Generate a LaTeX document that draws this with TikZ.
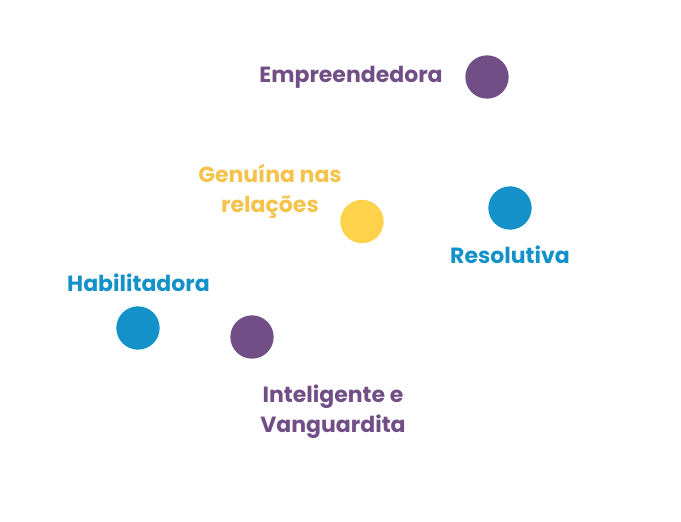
\documentclass[tikz,border=0pt]{standalone}
\usepackage{fontspec}
\setmainfont{Poppins}
\definecolor{cpurple}{HTML}{714F86}
\definecolor{cblue}{HTML}{1591CA}
\definecolor{cyellowdot}{HTML}{FED24B}
\definecolor{cyellowtxt}{HTML}{F5C24C}
\begin{document}
\begin{tikzpicture}[x=0.75pt,y=-0.75pt,
  dot/.style={circle,minimum size=32.5pt,inner sep=0pt,fill=#1},
  lbl/.style={text=#1,font=\fontsize{16.5}{22.5}\selectfont\bfseries,align=center,anchor=base,inner sep=0pt}]
\useasboundingbox (0,0) rectangle (681,521);
\node[dot=cpurple] (d1) at (487,77) {};
\node[dot=cblue] (d2) at (510,208) {};
\node[dot=cyellowdot] (d3) at (362,221.5) {};
\node[dot=cblue] (d4) at (138,328) {};
\node[dot=cpurple] (d5) at (252,337) {};
\node[lbl=cpurple] (t1) at (351,82) {Empreendedora};
\node[lbl=cyellowtxt] (t3) at (270,212) {Genuína nas\\relações};
\node[lbl=cblue] (t2) at (510,263) {Resolutiva};
\node[lbl=cblue] (t4) at (138.5,291) {Habilitadora};
\node[lbl=cpurple] (t5) at (333,432) {Inteligente e\\Vanguardita};
\end{tikzpicture}
\end{document}
